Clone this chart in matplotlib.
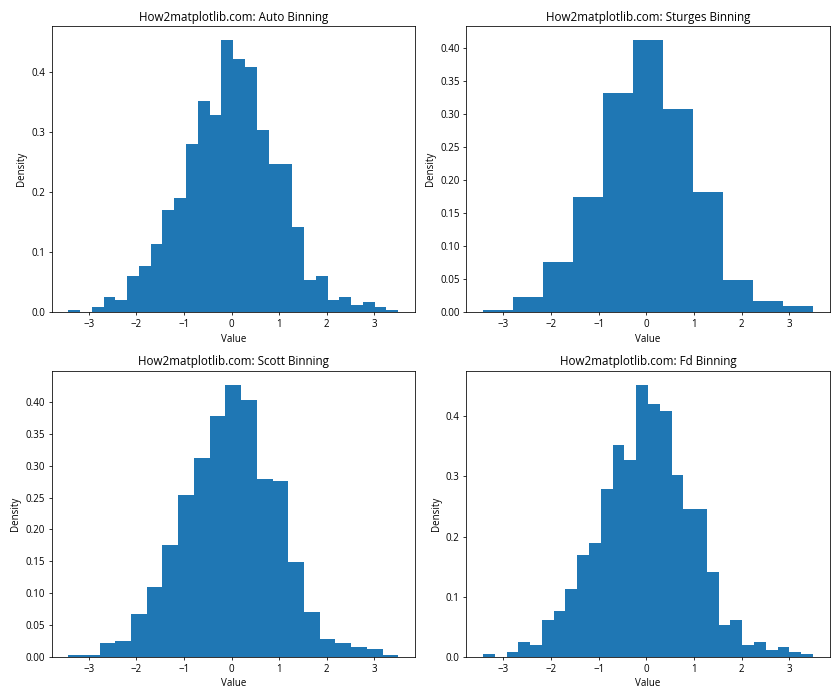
import numpy as np
import matplotlib
matplotlib.use("Agg")
import matplotlib.pyplot as plt

plt.rcParams['font.family'] = ['Open Sans', 'DejaVu Sans']

# Data range shared by every panel
DATA_MIN = -3.43
DATA_MAX = 3.50

# Counts per bin (1000 samples)
auto_counts = [1, 0, 2, 6, 5, 15, 19, 28, 42, 47, 69, 87, 81, 112,
               104, 101, 75, 61, 61, 35, 13, 15, 5, 6, 3, 4, 2, 1]
sturges_counts = [2, 14, 48, 110, 209, 260, 194, 115, 31, 11, 6]
scott_counts = [1, 1, 7, 8, 22, 36, 58, 84, 103, 125, 141, 133, 92, 91,
                49, 23, 9, 7, 5, 4, 1]
fd_counts = auto_counts

methods = ['auto', 'sturges', 'scott', 'fd']
counts_by_method = {
    'auto': auto_counts,
    'sturges': sturges_counts,
    'scott': scott_counts,
    'fd': fd_counts,
}

fig, axes = plt.subplots(2, 2, figsize=(12, 10), dpi=70)

for ax, method in zip(axes.flat, methods):
    counts = counts_by_method[method]
    edges = np.histogram_bin_edges([], bins=len(counts), range=(DATA_MIN, DATA_MAX))
    # one weighted sample per bin, normalised to density by matplotlib
    ax.hist(edges[:-1], bins=edges, weights=counts, density=True, color='#1f77b4')
    ax.set_title(f'How2matplotlib.com: {method.capitalize()} Binning')
    ax.set_xlabel('Value')
    ax.set_ylabel('Density')

plt.tight_layout()
plt.savefig('out.png', dpi=70)
